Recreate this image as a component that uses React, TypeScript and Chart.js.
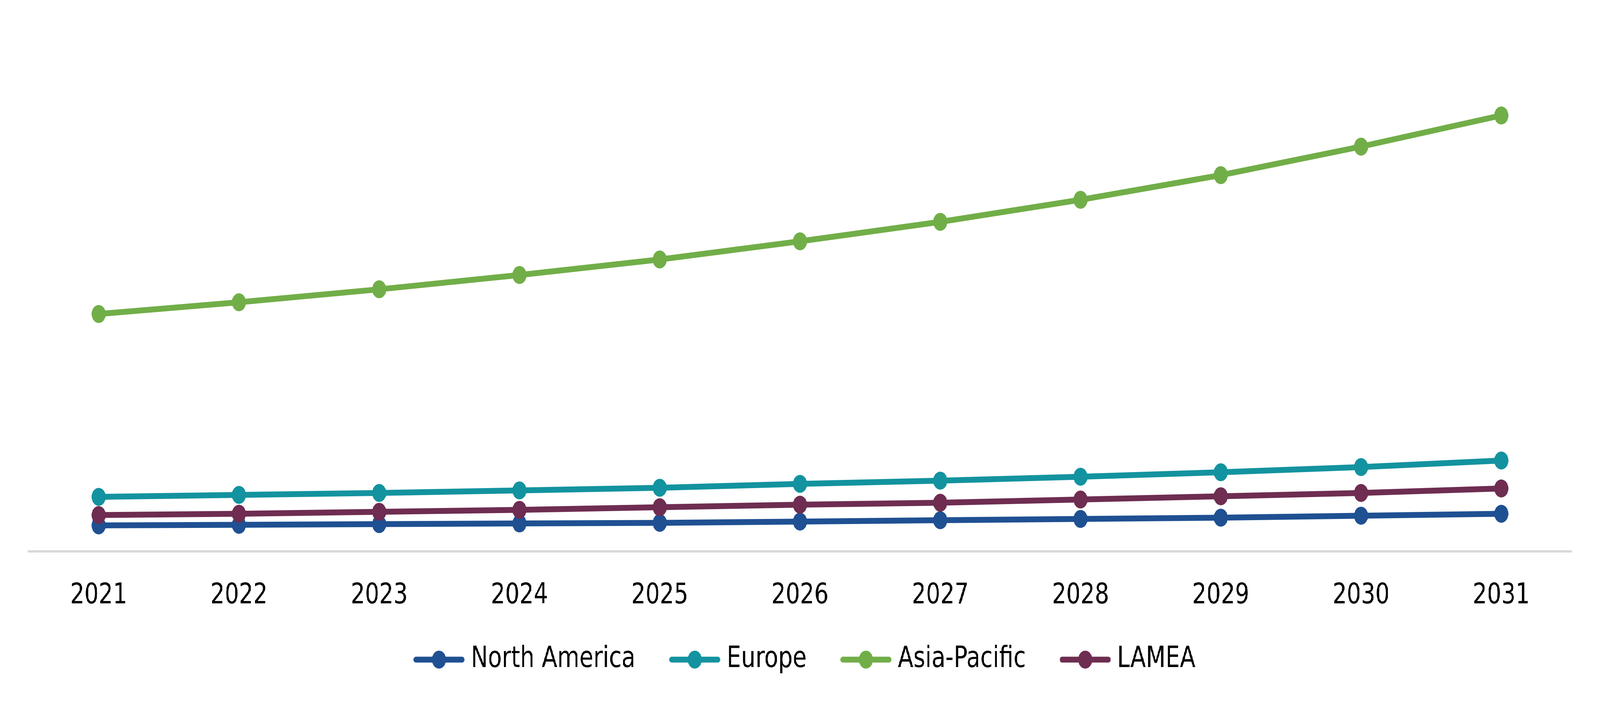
import { useEffect, useRef } from "react";
import Chart from "chart.js/auto";

const years = ["2021", "2022", "2023", "2024", "2025", "2026", "2027", "2028", "2029", "2030", "2031"];
const northAmerica = [2.0, 2.05, 2.1, 2.15, 2.2, 2.3, 2.4, 2.5, 2.6, 2.75, 2.9];
const europe = [4.2, 4.35, 4.5, 4.7, 4.9, 5.2, 5.45, 5.75, 6.1, 6.5, 7.0];
const asiaPacific = [18.3, 19.2, 20.2, 21.3, 22.5, 23.9, 25.4, 27.1, 29.0, 31.2, 33.6];
const lamea = [2.8, 2.9, 3.05, 3.2, 3.4, 3.6, 3.75, 4.0, 4.25, 4.5, 4.85];

const seriesNames = ["North America", "Europe", "Asia-Pacific", "LAMEA"];
const seriesColors = ["#1f5092", "#13939f", "#71ae48", "#6e2d51"];

const FONT = "'DejaVu Sans', Verdana, sans-serif";
const W = 5209;
const H = 1799;

// line + dot picture for the legend, with empty room on its left
function legendMarker(color: string) {
    const c = document.createElement("canvas");
    c.width = 227;
    c.height = 50;
    const ctx = c.getContext("2d")!;
    ctx.strokeStyle = color;
    ctx.lineWidth = 15;
    ctx.lineCap = "round";
    ctx.beginPath();
    ctx.moveTo(60.5, 25);
    ctx.lineTo(211.5, 25);
    ctx.stroke();
    ctx.fillStyle = color;
    ctx.beginPath();
    ctx.arc(136, 25, 23, 0, Math.PI * 2);
    ctx.fill();
    return c;
}

export default function App() {
    const canvasRef = useRef<HTMLCanvasElement | null>(null);
    const chartRef = useRef<Chart | null>(null);

    useEffect(() => {
        if (!canvasRef.current) return;
        if (chartRef.current) { chartRef.current.destroy(); }

        const values = [northAmerica, europe, asiaPacific, lamea];
        const markers = seriesColors.map(legendMarker);

        chartRef.current = new Chart(canvasRef.current, {
            type: "line",
            data: {
                labels: years,
                datasets: values.map((v, i) => ({
                    label: seriesNames[i],
                    data: v,
                    borderColor: seriesColors[i],
                    backgroundColor: seriesColors[i],
                    borderWidth: 15,
                    pointRadius: 23,
                    pointHoverRadius: 23,
                    pointBorderWidth: 0,
                    tension: 0,
                    order: i === 3 ? -1 : 0,
                })),
            },
            options: {
                animation: false,
                responsive: true,
                maintainAspectRatio: false,
                layout: {
                    padding: { top: 83, left: 93, right: 93, bottom: 64 },
                },
                plugins: {
                    tooltip: { enabled: false },
                    legend: {
                        position: "bottom",
                        labels: {
                            usePointStyle: true,
                            pointStyleWidth: 179,
                            padding: 81,
                            color: "#000",
                            font: { family: FONT, size: 74 },
                            generateLabels: (chart) =>
                                chart.data.datasets.map((ds, i) => ({
                                    text: ds.label as string,
                                    fillStyle: seriesColors[i],
                                    strokeStyle: seriesColors[i],
                                    lineWidth: 0,
                                    pointStyle: markers[i],
                                    hidden: false,
                                    datasetIndex: i,
                                    fontColor: "#000",
                                })),
                        },
                    },
                },
                scales: {
                    x: {
                        offset: true,
                        grid: { display: false, drawTicks: false },
                        border: { display: true, color: "#d9d9d9", width: 6 },
                        ticks: {
                            color: "#000",
                            padding: 70,
                            font: { family: FONT, size: 73 },
                        },
                        afterFit: (scale) => { scale.height = 159; },
                    },
                    y: {
                        display: false,
                        min: 0,
                        max: 40,
                    },
                },
            },
        });

        return () => {
            if (chartRef.current) {
                chartRef.current.destroy();
                chartRef.current = null;
            }
        };
    }, []);

    // the window may be narrower than the chart; fit it across
    const sx = Math.min(1, window.innerWidth / W);

    return (
        <div style={{
            position: "fixed", left: 0, top: 0, width: W, height: H, background: "#fff",
            transform: `scale(${sx}, 1)`, transformOrigin: "0 0",
        }}>
            <canvas ref={canvasRef} />
        </div>
    );
}
